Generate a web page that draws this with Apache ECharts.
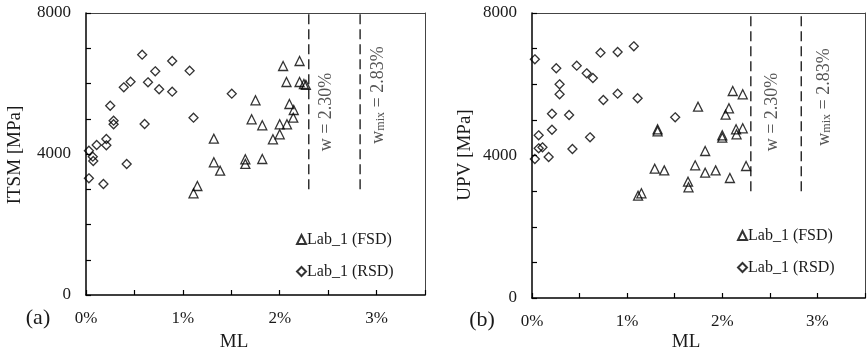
<!DOCTYPE html>
<html>
<head>
<meta charset="utf-8">
<script src="https://cdn.jsdelivr.net/npm/echarts@6/dist/echarts.min.js"></script>
<style>html,body{margin:0;padding:0;background:#fff}#c{width:868px;height:354px}</style>
</head>
<body>
<div id="c"></div>
<script>
// ---- Data (ML in %, stiffness in MPa) ----
const fsdItsmML = [1.11,1.15,1.32,1.32,1.385,1.645,1.645,1.82,1.71,1.75,1.82,1.93,2.0,2.0,2.075,2.14,2.145,2.1,2.035,2.07,2.205,2.205,2.25,2.27];
const fsdItsm   = [2885,3092,4435,3765,3527,3850,3720,3858,4984,5523,4814,4417,4559,4843,4843,5030,5248,5419,6497,6043,6638,6043,5986,5960];
const rsdItsmML = [0.03,0.07,0.075,0.03,0.11,0.18,0.21,0.21,0.25,0.285,0.285,0.39,0.46,0.42,0.58,0.605,0.64,0.715,0.755,0.89,0.89,1.07,1.11,1.505];
const rsdItsm   = [4094,3924,3801,3310,4255,3149,4246,4425,5370,4945,4843,5892,6052,3716,6817,4851,6034,6346,5836,6638,5768,6364,5030,5711];

const fsdUpvML = [1.115,1.15,1.32,1.32,1.29,1.39,1.64,1.645,1.715,1.745,1.82,1.82,1.93,2.0,2.0,2.035,2.07,2.08,2.11,2.145,2.15,2.215,2.215,2.25];
const fsdUpv   = [2872,2939,4735,4680,3630,3583,3265,3107,3724,5370,4126,3517,3583,4567,4500,5145,5325,3368,5810,4735,4595,5718,4763,3705];
const rsdUpvML = [0.03,0.03,0.07,0.07,0.11,0.175,0.21,0.21,0.255,0.29,0.29,0.39,0.425,0.47,0.575,0.64,0.61,0.72,0.75,0.90,0.90,1.07,1.11,1.505];
const rsdUpv   = [6700,3902,4567,4202,4230,3958,5173,4724,6448,5998,5718,5137,4182,6521,6307,6175,4511,6886,5558,6905,5735,7065,5606,5072];

const wLimit = 2.30, wMixLimit = 2.83;
const limitRange = [3000, 8000];
const xTickLabels = ['0%','1%','2%','3%'];
const yTickLabels = ['0','4000','8000'];
const seriesNames = ['Lab_1 (FSD)', 'Lab_1 (RSD)'];
const yNames = ['ITSM [MPa]', 'UPV [MPa]'];
const panelTags = ['(a)', '(b)'];

const zip = (a, b) => a.map((v, i) => [v, b[i]]);
const FONT = "'Liberation Serif','Times New Roman',serif";
const TXT = '#1a1a1a';

const chart = echarts.init(document.getElementById('c'));

function tick() { return {show: true, inside: true, length: 5, lineStyle: {color: '#000', width: 1.2}}; }
function xAxis(gi) {
  return {
    gridIndex: gi, type: 'value', min: 0, max: 3.5, interval: 0.5, position: 'bottom',
    axisLine: {show: true, onZero: false, lineStyle: {color: '#000', width: 1.5}},
    axisTick: tick(),
    splitLine: {show: false},
    axisLabel: {
      show: true, margin: 15, color: TXT, fontFamily: FONT, fontSize: 17,
      formatter: v => { const s = v + '%'; return xTickLabels.includes(s) ? s : ''; }
    }
  };
}
function yAxis(gi) {
  return {
    gridIndex: gi, type: 'value', min: 0, max: 8000, interval: 1000, position: 'left',
    axisLine: {show: true, onZero: false, lineStyle: {color: '#000', width: 1.5}},
    axisTick: tick(),
    splitLine: {show: false},
    axisLabel: {
      show: true, margin: 15, color: TXT, fontFamily: FONT, fontSize: 17,
      formatter: v => yTickLabels.includes(String(v)) ? String(v) : ''
    }
  };
}
// frame axes (top / right border lines only)
function frameX(gi) {
  return {gridIndex: gi, type: 'value', min: 0, max: 3.5, position: 'top',
    axisLine: {show: true, onZero: false, lineStyle: {color: '#444', width: 1}},
    axisTick: {show: false}, axisLabel: {show: false}, splitLine: {show: false}};
}
function frameY(gi) {
  return {gridIndex: gi, type: 'value', min: 0, max: 8000, position: 'right',
    axisLine: {show: true, onZero: false, lineStyle: {color: '#444', width: 1}},
    axisTick: {show: false}, axisLabel: {show: false}, splitLine: {show: false}};
}
const markerStyle = {color: 'rgba(0,0,0,0)', borderColor: '#000', borderWidth: 1.3};
function scatter(name, gi, data, symbol) {
  return {
    name, type: 'scatter', xAxisIndex: gi, yAxisIndex: gi, data,
    symbol, symbolSize: 9, itemStyle: markerStyle, silent: true, z: 3
  };
}
function vline(gi, x) {
  return {
    type: 'line', xAxisIndex: gi, yAxisIndex: gi, silent: true, symbol: 'none',
    data: [[x, limitRange[0]], [x, limitRange[1]]],
    lineStyle: {color: '#222', width: 1.4, type: [10, 5]}, z: 2
  };
}
function legend(left, top) {
  return {
    data: seriesNames.map(n => ({name: n})), orient: 'vertical', left, top,
    itemWidth: 9, itemHeight: 9, itemGap: 15, selectedMode: false,
    textStyle: {fontFamily: FONT, fontSize: 16, color: TXT, lineHeight: 17, padding: [0,0,0,-4]}
  };
}
function vtext(x, y, text, rich) {
  return {
    type: 'text', x, y, rotation: Math.PI / 2, silent: true,
    style: Object.assign({text, fill: '#555', font: '18px ' + FONT, align: 'center', verticalAlign: 'middle'}, rich ? {rich} : {})
  };
}
function htext(x, y, text, size, rot) {
  return {
    type: 'text', x, y, rotation: rot || 0, silent: true,
    style: {text, fill: TXT, font: size + 'px ' + FONT, align: 'center', verticalAlign: 'middle'}
  };
}
const wMixRich = {
  m: {fontSize: 18, fontFamily: FONT, fill: '#555'},
  s: {fontSize: 12, fontFamily: FONT, fill: '#555', verticalAlign: 'bottom', padding: [6, 0, 0, 0]}
};

chart.setOption({
  animation: false,
  backgroundColor: '#fff',
  grid: [
    {left: 86, top: 13, width: 339, height: 282},
    {left: 532, top: 13, width: 340, height: 285}
  ],
  xAxis: [xAxis(0), xAxis(1), frameX(0), frameX(1)],
  yAxis: [yAxis(0), yAxis(1), frameY(0), frameY(1)],
  legend: [legend(291, 226), legend(732, 222)],
  series: [
    scatter(seriesNames[0], 0, zip(fsdItsmML, fsdItsm), 'triangle'),
    scatter(seriesNames[1], 0, zip(rsdItsmML, rsdItsm), 'diamond'),
    scatter(seriesNames[0], 1, zip(fsdUpvML, fsdUpv), 'triangle'),
    scatter(seriesNames[1], 1, zip(rsdUpvML, rsdUpv), 'diamond'),
    vline(0, wLimit), vline(0, wMixLimit), vline(1, wLimit), vline(1, wMixLimit)
  ],
  graphic: [
    vtext(326, 112, 'w = ' + wLimit.toFixed(2) + '%'),
    vtext(378, 95, '{m|w}{s|mix}{m| = ' + wMixLimit.toFixed(2) + '%}', wMixRich),
    vtext(772, 112, 'w = ' + wLimit.toFixed(2) + '%'),
    vtext(824, 97, '{m|w}{s|mix}{m| = ' + wMixLimit.toFixed(2) + '%}', wMixRich),
    htext(15.5, 155, yNames[0], 19, Math.PI / 2),
    htext(465, 155, yNames[1], 19, Math.PI / 2),
    htext(234, 342, 'ML', 19),
    htext(686, 342, 'ML', 19),
    htext(38, 318, panelTags[0], 22),
    htext(482, 320, panelTags[1], 22)
  ]
});
</script>
</body>
</html>
